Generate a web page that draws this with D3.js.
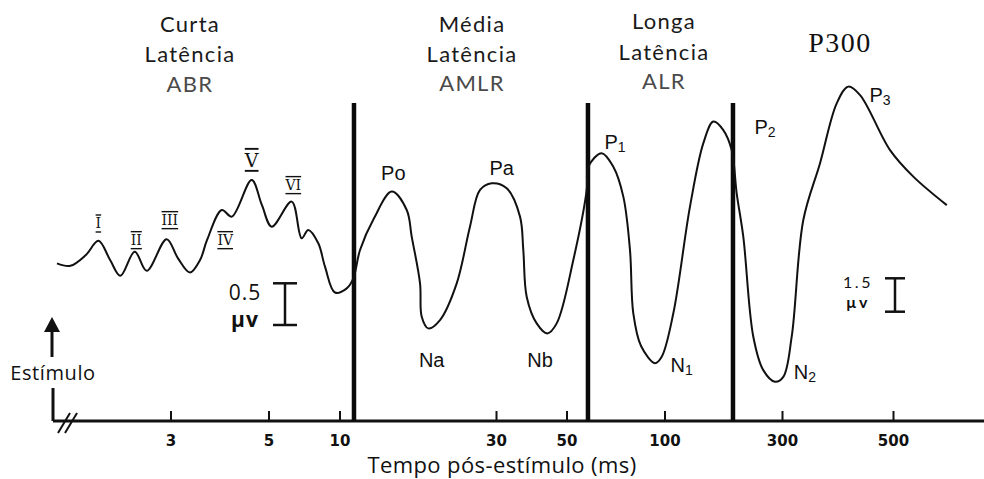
<!DOCTYPE html>
<html>
<head>
<meta charset="utf-8">
<script src="https://cdn.jsdelivr.net/npm/d3@7"></script>
<style>
  body { margin: 0; background: #fff; }
  svg { display: block; }
</style>
</head>
<body>
<svg id="chart" width="984" height="479"></svg>
<script>
// ---- data -------------------------------------------------------------
// Latency axis ticks (ms, log spacing)
const tickValues = [3, 5, 10, 30, 50, 100, 300, 500];
const tickLabels = ["3", "5", "10", "30", "50", "100", "300", "500"];

// Boundaries between latency classes (ms)
const regionBounds = [11.07, 58.2, 189.7];

// Early responses (ABR / AMLR) and late responses (ALR / P300) are drawn with different gains
const gainSplit = 58;
const calEarly = 0.5;   // µV
const calLate = 1.5;    // µV

// Evoked potential waveform: latency (ms) and amplitude (µV)
const waveTimes = [
  1.66, 1.78, 1.93, 2.06, 2.19, 2.31, 2.49, 2.65, 2.94, 3.12,
  3.32, 3.50, 3.63, 3.92, 4.13, 4.58, 4.83, 5.16, 6.27, 6.91,
  7.37, 8.13, 8.68, 9.57, 10.52, 11.02, 11.55, 12.74, 14.43, 16.03,
  16.60, 17.60, 17.81, 18.65, 20.25, 22.77, 24.99, 26.82, 29.11, 32.42,
  35.70, 36.56, 37.47, 40.29, 43.51, 46.57, 52.47, 57.69,
  58.34, 64.14, 69.62, 74.73, 78.34, 80.20, 84.71, 93.52, 98.05, 108.6,
  126.9, 143.8, 157.9, 173.3, 187.4, 196.4, 208.9, 229.4, 251.8, 281.0,
  301.8, 313.7, 330.9, 357.4, 385.9, 406.9, 429.7, 493.2, 549.0, 640.4
];
const waveAmps = [
  0.02, -0.01, 0.12, 0.29, 0.06, -0.13, 0.16, -0.07, 0.31, 0.08,
  -0.09, 0.06, 0.30, 0.66, 0.58, 1.02, 0.72, 0.46, 0.76, 0.32,
  0.42, 0.26, -0.02, -0.33, -0.28, -0.16, 0.18, 0.56, 0.88, 0.66,
  0.34, -0.22, -0.62, -0.76, -0.66, -0.22, 0.46, 0.90, 0.98, 0.92,
  0.58, 0.18, -0.38, -0.70, -0.82, -0.70, 0.06, 0.90,
  4.41, 5.02, 4.41, 3.07, 0.67, -2.17, -3.64, -4.41, -4.12, -2.17,
  2.62, 5.47, 6.44, 6.06, 5.16, 3.22, 1.27, -3.22, -4.72, -5.24,
  -5.02, -3.22, 2.02, 4.57, 7.26, 8.01, 7.63, 5.16, 3.97, 2.69
];

// Component labels, anchored in latency / amplitude
const peakNames = ["I", "II", "III", "IV", "V", "VI", "Po", "Pa", "Na", "Nb", "P1", "N1", "P2", "N2", "P3"];
const peakLabelTimes = [2.06, 2.51, 2.99, 3.99, 4.58, 6.37, 14.59, 31.27, 19.10, 41.26, 70.47, 117.4, 255.9, 333.4, 471.0];
const peakLabelAmps = [0.50, 0.30, 0.54, 0.30, 1.26, 0.96, 1.10, 1.16, -1.14, -1.14, 5.54, -4.49, 6.21, -4.79, 7.63];

// Latency class headings
const headings = [
  ["Curta", "Latência", "ABR"],
  ["Média", "Latência", "AMLR"],
  ["Longa", "Latência", "ALR"]
];
const p300Heading = "P300";
const axisTitle = "Tempo pós-estímulo (ms)";
const stimulusLabel = "Estímulo";
const unitLabel = "µv";

// ---- layout -----------------------------------------------------------
const svg = d3.select("#chart");
const axisY = 421;
const zeroY = 265;
const lineTop = 103;
const sansFont = "'Open Sans', 'Noto Sans', sans-serif";
const headFont = "Lato, 'Open Sans', sans-serif";
const handFont = "'Liberation Sans', Arial, sans-serif";

// Hand-drawn log axis: piecewise log scale through the tick positions
const x = d3.scaleLog()
  .domain(tickValues)
  .range([170.5, 268.5, 339.5, 496, 566.5, 664.5, 782, 893]);

const yEarly = d3.scaleLinear().domain([0, 1]).range([zeroY, zeroY - 83.4]);
const yLate = d3.scaleLinear().domain([0, 1]).range([zeroY, zeroY - 22.27]);
const yOf = (t, v) => (t < gainSplit ? yEarly : yLate)(v);

// ---- axis -------------------------------------------------------------
svg.append("line")
  .attr("x1", 53).attr("x2", 984)
  .attr("y1", axisY).attr("y2", axisY)
  .attr("stroke", "#111").attr("stroke-width", 3);

const axis = d3.axisBottom(x)
  .tickValues(tickValues)
  .tickFormat((d, i) => tickLabels[i])
  .tickSizeInner(-10)
  .tickSizeOuter(0)
  .tickPadding(14);

const gAxis = svg.append("g")
  .attr("transform", `translate(0,${axisY})`)
  .call(axis);
gAxis.select(".domain").remove();
gAxis.selectAll(".tick line").attr("stroke", "#111").attr("stroke-width", 2);
gAxis.selectAll(".tick text")
  .attr("fill", "#111")
  .style("font-family", "'DejaVu Sans', sans-serif")
  .style("font-weight", "bold")
  .style("font-size", "15px");

// axis break marks
[[58, 66], [65, 73]].forEach(([a, b]) => {
  svg.append("line")
    .attr("x1", a).attr("y1", axisY + 12)
    .attr("x2", b + 4).attr("y2", axisY - 8)
    .attr("stroke", "#111").attr("stroke-width", 2);
});

svg.append("text")
  .attr("x", 502).attr("y", 473)
  .attr("text-anchor", "middle")
  .style("font-family", sansFont)
  .style("font-size", "22px")
  .style("letter-spacing", "0.4px")
  .attr("fill", "#111")
  .text(axisTitle);

// ---- stimulus marker --------------------------------------------------
svg.append("line")
  .attr("x1", 53).attr("x2", 53)
  .attr("y1", 388).attr("y2", axisY)
  .attr("stroke", "#111").attr("stroke-width", 3);

svg.append("line")
  .attr("x1", 52).attr("x2", 52)
  .attr("y1", 357).attr("y2", 328)
  .attr("stroke", "#111").attr("stroke-width", 3);
svg.append("path")
  .attr("d", "M52,317 L60,332 L44,332 Z")
  .attr("fill", "#111");

svg.append("text")
  .attr("x", 53).attr("y", 380)
  .attr("text-anchor", "middle")
  .style("font-family", sansFont)
  .style("font-size", "20px")
  .style("letter-spacing", "0.6px")
  .attr("fill", "#111")
  .text(stimulusLabel);

// ---- latency class separators -----------------------------------------
svg.selectAll("line.bound")
  .data(regionBounds)
  .enter().append("line")
  .attr("class", "bound")
  .attr("x1", d => x(d)).attr("x2", d => x(d))
  .attr("y1", lineTop).attr("y2", axisY)
  .attr("stroke", "#0a0a0a").attr("stroke-width", 4.5);

// ---- headings ---------------------------------------------------------
const headingX = [190, 472, 664];
const headingBase = [[32, 62, 92], [32, 62, 91], [29, 60, 89]];
headings.forEach((lines, i) => {
  lines.forEach((s, j) => {
    svg.append("text")
      .attr("x", headingX[i]).attr("y", headingBase[i][j])
      .attr("text-anchor", "middle")
      .style("font-family", headFont)
      .style("font-size", "22px")
      .style("letter-spacing", "1.3px")
      .attr("fill", j === 2 ? "#4a4a4a" : "#1a1a1a")
      .text(s);
  });
});

svg.append("text")
  .attr("x", 840).attr("y", 52)
  .attr("text-anchor", "middle")
  .style("font-family", "'Liberation Serif', 'DejaVu Serif', serif")
  .style("font-size", "28px")
  .style("letter-spacing", "1.5px")
  .attr("fill", "#111")
  .text(p300Heading);

// ---- waveform ---------------------------------------------------------
const wave = waveTimes.map((t, i) => ({ t, v: waveAmps[i] }));
const line = d3.line()
  .x(d => x(d.t))
  .y(d => yOf(d.t, d.v))
  .curve(d3.curveCatmullRom.alpha(0.5));

svg.append("path")
  .datum(wave)
  .attr("d", line)
  .attr("fill", "none")
  .attr("stroke", "#111")
  .attr("stroke-width", 2)
  .attr("stroke-linejoin", "round");

// ---- component labels -------------------------------------------------
const roman = new Set(["I", "II", "III", "IV", "V", "VI"]);
peakNames.forEach((name, i) => {
  const px = x(peakLabelTimes[i]);
  const py = yOf(peakLabelTimes[i], peakLabelAmps[i]);
  const t = svg.append("text")
    .attr("x", px).attr("y", py)
    .attr("text-anchor", "middle")
    .attr("dominant-baseline", "central")
    .attr("fill", "#111");
  if (roman.has(name)) {
    t.style("font-family", "'DejaVu Serif', serif")
      .style("font-size", name === "V" ? "19px" : "14px")
      .style("text-decoration", "overline underline")
      .text(name);
  } else {
    t.style("font-family", handFont).style("font-size", "20px");
    t.append("tspan").text(name[0]);
    const rest = name.slice(1);
    if (/\d/.test(rest)) {
      t.append("tspan").attr("dy", 5).style("font-size", "14px").text(rest);
    } else {
      t.append("tspan").text(rest);
    }
  }
});

// ---- calibration bars -------------------------------------------------
function calBar(cx, top, scale, value, serif) {
  const len = scale(0) - scale(value);
  const g = svg.append("g").attr("stroke", "#111").attr("stroke-width", 2.5);
  g.append("line").attr("x1", cx).attr("x2", cx).attr("y1", top).attr("y2", top + len);
  g.append("line").attr("x1", cx - serif / 2).attr("x2", cx + serif / 2).attr("y1", top).attr("y2", top);
  g.append("line").attr("x1", cx - serif / 2).attr("x2", cx + serif / 2).attr("y1", top + len).attr("y2", top + len);
}
calBar(285, 283.3, yEarly, calEarly, 24);
calBar(895, 278.3, yLate, calLate, 20);

svg.append("text")
  .attr("x", 245).attr("y", 300).attr("text-anchor", "middle")
  .style("font-family", sansFont).style("font-size", "21px")
  .style("letter-spacing", "1px").attr("fill", "#111")
  .text(String(calEarly));
svg.append("text")
  .attr("x", 245).attr("y", 327).attr("text-anchor", "middle")
  .style("font-family", sansFont).style("font-size", "21px")
  .style("font-weight", "bold").style("letter-spacing", "1px").attr("fill", "#111")
  .text(unitLabel);

svg.append("text")
  .attr("x", 858).attr("y", 287.5).attr("text-anchor", "middle")
  .style("font-family", headFont).style("font-size", "16px")
  .style("letter-spacing", "2.5px").attr("fill", "#111")
  .text(String(calLate));
svg.append("text")
  .attr("x", 858).attr("y", 307.5).attr("text-anchor", "middle")
  .style("font-family", headFont).style("font-size", "16px")
  .style("font-weight", "bold").style("letter-spacing", "2.5px").attr("fill", "#111")
  .text(unitLabel);
</script>
</body>
</html>
